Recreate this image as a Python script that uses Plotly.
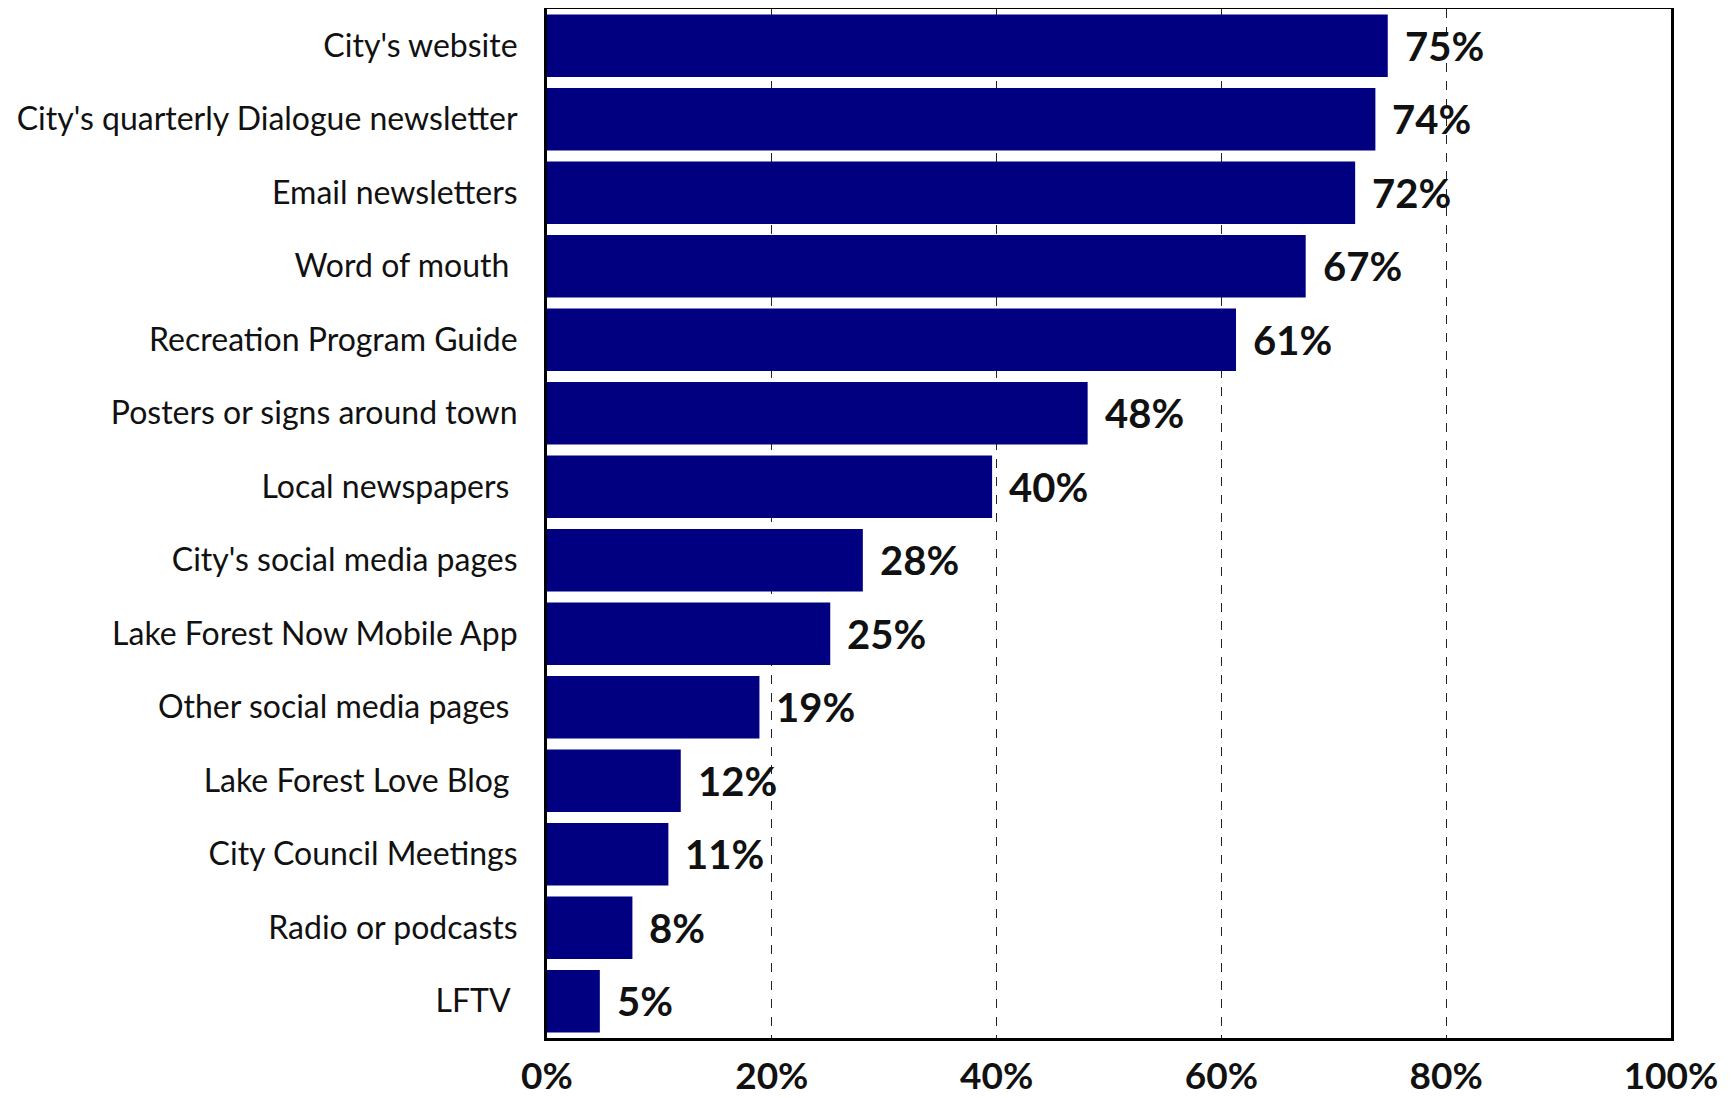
import plotly.graph_objects as go

# survey: where residents get city information (share of respondents, %)
categories = [
    "City's website",
    "City's quarterly Dialogue newsletter",
    "Email newsletters",
    "Word of mouth\u00a0",
    "Recreation Program Guide",
    "Posters or signs around town",
    "Local newspapers\u00a0",
    "City's social media pages",
    "Lake Forest Now Mobile App",
    "Other social media pages\u00a0",
    "Lake Forest Love Blog\u00a0",
    "City Council Meetings",
    "Radio or podcasts",
    "LFTV\u00a0",
]
values = [74.8, 73.7, 71.9, 67.5, 61.3, 48.1, 39.6, 28.1, 25.2, 18.9, 11.9, 10.8, 7.6, 4.7]
value_labels = ["75%", "74%", "72%", "67%", "61%", "48%", "40%", "28%",
                "25%", "19%", "12%", "11%", "8%", "5%"]
x_ticks = [0, 20, 40, 60, 80, 100]
x_tick_labels = ["0%", "20%", "40%", "60%", "80%", "100%"]

FONT = "Lato"

fig = go.Figure()
fig.add_trace(go.Bar(
    x=values, y=categories, orientation='h',
    marker=dict(color='#000080', line=dict(width=0)),
    hoverinfo='skip',
))

for cat, val, lab in zip(categories, values, value_labels):
    fig.add_annotation(
        x=val, y=cat, text=f"<b>{lab}</b>", showarrow=False,
        xanchor='left', yanchor='middle', xshift=15,
        font=dict(family=FONT, size=40, color='#111111'),
    )

# the page body adds a small offset, so the figure is a bit smaller than the window
fig.update_layout(
    width=1723, height=1090,
    margin=dict(l=539, r=60, t=1, b=60),
    paper_bgcolor='white', plot_bgcolor='white',
    bargap=0.15, showlegend=False,
    font=dict(family=FONT, color='#111111'),
)
fig.update_xaxes(
    range=[0, 100], tickvals=x_ticks, ticktext=x_tick_labels,
    tickfont=dict(family=FONT, size=37, weight='bold', color='#111111'),
    showgrid=True, gridcolor='#222222', gridwidth=1, griddash='dash',
    zeroline=False, showline=True, linecolor='black', linewidth=3, mirror=True,
    ticks='', ticklabelstandoff=4, automargin=False,
)
fig.update_yaxes(
    autorange='reversed', type='category',
    tickfont=dict(family=FONT, size=32, color='#111111'),
    showgrid=False, showline=True, linecolor='black', linewidth=3, mirror=True,
    ticks='', ticklabelstandoff=20, automargin=False,
)

fig.write_html("out.html")
